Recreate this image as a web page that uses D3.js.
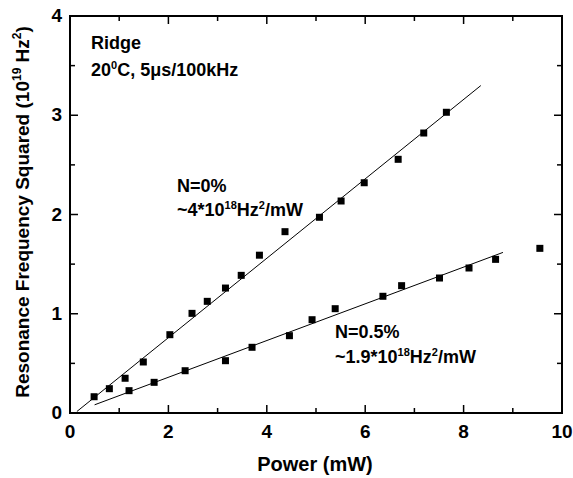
<!DOCTYPE html>
<html>
<head>
<meta charset="utf-8">
<script src="https://cdn.jsdelivr.net/npm/d3@7"></script>
<style>
  body { margin: 0; background: #fff; }
  text { font-family: "Liberation Sans", Arial, sans-serif; font-weight: bold; fill: #000; }
</style>
</head>
<body>
<svg id="chart" width="573" height="478"></svg>
<script>
// N=0% series
const power0 = [0.49, 0.80, 1.12, 1.49, 2.03, 2.48, 2.79, 3.16, 3.48, 3.85, 4.37, 5.07, 5.51, 5.98, 6.67, 7.19, 7.65]
const freq0  = [0.164, 0.245, 0.35, 0.514, 0.789, 1.004, 1.125, 1.259, 1.387, 1.59, 1.827, 1.972, 2.136, 2.32, 2.556, 2.821, 3.03]

// N=0.5% series
const power05 = [1.20, 1.71, 2.34, 3.16, 3.70, 4.46, 4.92, 5.39, 6.36, 6.74, 7.51, 8.11, 8.65, 9.55]
const freq05  = [0.225, 0.309, 0.426, 0.527, 0.662, 0.779, 0.94, 1.051, 1.176, 1.283, 1.36, 1.461, 1.548, 1.659]

// linear fits: slope, intercept, x range
const fit0  = {slope: 0.40, intercept: -0.041, from: 0.14, to: 8.35}
const fit05 = {slope: 0.185, intercept: -0.010, from: 0.5, to: 8.8}

const xTicks = [0, 2, 4, 6, 8, 10]
const xMinor = [1, 3, 5, 7, 9]
const yTicks = [0, 1, 2, 3, 4]
const yMinor = [0.5, 1.5, 2.5, 3.5]

const svg = d3.select("#chart")

let x = d3.scaleLinear().domain([0, 10]).range([70, 562])
let y = d3.scaleLinear().domain([0, 4]).range([413, 16])

const major = 8, minor = 5

// ticks on all four sides, pointing inward
let ticks = svg.append("g").attr("stroke", "#000").attr("stroke-width", 1.5)
const vTick = (vals, len, y0, dir) => ticks.selectAll(null).data(vals).enter().append("line")
    .attr("x1", d => x(d)).attr("x2", d => x(d))
    .attr("y1", y0).attr("y2", y0 + dir * len)
const hTick = (vals, len, x0, dir) => ticks.selectAll(null).data(vals).enter().append("line")
    .attr("y1", d => y(d)).attr("y2", d => y(d))
    .attr("x1", x0).attr("x2", x0 + dir * len)

vTick(xTicks.slice(1, -1), major, y(0), -1)
vTick(xMinor, minor, y(0), -1)
vTick(xTicks.slice(1, -1), major, y(4), 1)
vTick(xMinor, minor, y(4), 1)
hTick(yTicks.slice(1, -1), major, x(0), 1)
hTick(yMinor, minor, x(0), 1)
hTick(yTicks.slice(1, -1), major, x(10), -1)
hTick(yMinor, minor, x(10), -1)

// frame
svg.append("rect")
    .attr("x", x(0)).attr("y", y(4))
    .attr("width", x(10) - x(0)).attr("height", y(0) - y(4))
    .attr("fill", "none").attr("stroke", "#000").attr("stroke-width", 2)

// tick labels
svg.append("g").selectAll("text").data(xTicks).enter().append("text")
    .attr("x", d => x(d)).attr("y", 438)
    .attr("text-anchor", "middle").style("font-size", "19px")
    .text(d => d)

svg.append("g").selectAll("text").data(yTicks).enter().append("text")
    .attr("x", 62).attr("y", d => y(d) + 6)
    .attr("text-anchor", "end").style("font-size", "19px")
    .text(d => d)

// axis titles
svg.append("text")
    .attr("x", 315).attr("y", 471)
    .attr("text-anchor", "middle").style("font-size", "20px")
    .text("Power (mW)")

let yl = svg.append("text")
    .attr("transform", "translate(29,212) rotate(-90)")
    .attr("text-anchor", "middle").style("font-size", "19px")
yl.append("tspan").text("Resonance Frequency Squared (10")
yl.append("tspan").attr("dy", -8).style("font-size", "12px").text("19")
yl.append("tspan").attr("dy", 8).text(" Hz")
yl.append("tspan").attr("dy", -8).style("font-size", "12px").text("2")
yl.append("tspan").attr("dy", 8).text(")")

// fit lines
const fitLine = f => svg.append("line")
    .attr("x1", x(f.from)).attr("y1", y(f.slope * f.from + f.intercept))
    .attr("x2", x(f.to)).attr("y2", y(f.slope * f.to + f.intercept))
    .attr("stroke", "#000").attr("stroke-width", 1)
fitLine(fit0)
fitLine(fit05)

// markers
const s = 7
const markers = (px, py) => svg.append("g").selectAll("rect").data(px).enter().append("rect")
    .attr("x", d => x(d) - s / 2)
    .attr("y", (d, i) => y(py[i]) - s / 2)
    .attr("width", s).attr("height", s)
    .attr("fill", "#000")
markers(power0, freq0)
markers(power05, freq05)

// annotations
const label = (tx, ty, parts) => {
    let t = svg.append("text").attr("x", tx).attr("y", ty).style("font-size", "18px")
    for (let p of parts) {
        if (p.sup) t.append("tspan").attr("dy", -7).style("font-size", "11px").text(p.sup)
        else t.append("tspan").attr("dy", p.after ? 7 : 0).text(p.t)
    }
}

label(91, 49, [{t: "Ridge"}])
label(91, 76, [{t: "20"}, {sup: "0"}, {t: "C, 5\u03bcs/100kHz", after: true}])
label(177, 192, [{t: "N=0%"}])
label(177, 216, [{t: "~4*10"}, {sup: "18"}, {t: "Hz", after: true}, {sup: "2"}, {t: "/mW", after: true}])
label(335, 338, [{t: "N=0.5%"}])
label(335, 363, [{t: "~1.9*10"}, {sup: "18"}, {t: "Hz", after: true}, {sup: "2"}, {t: "/mW", after: true}])
</script>
</body>
</html>
